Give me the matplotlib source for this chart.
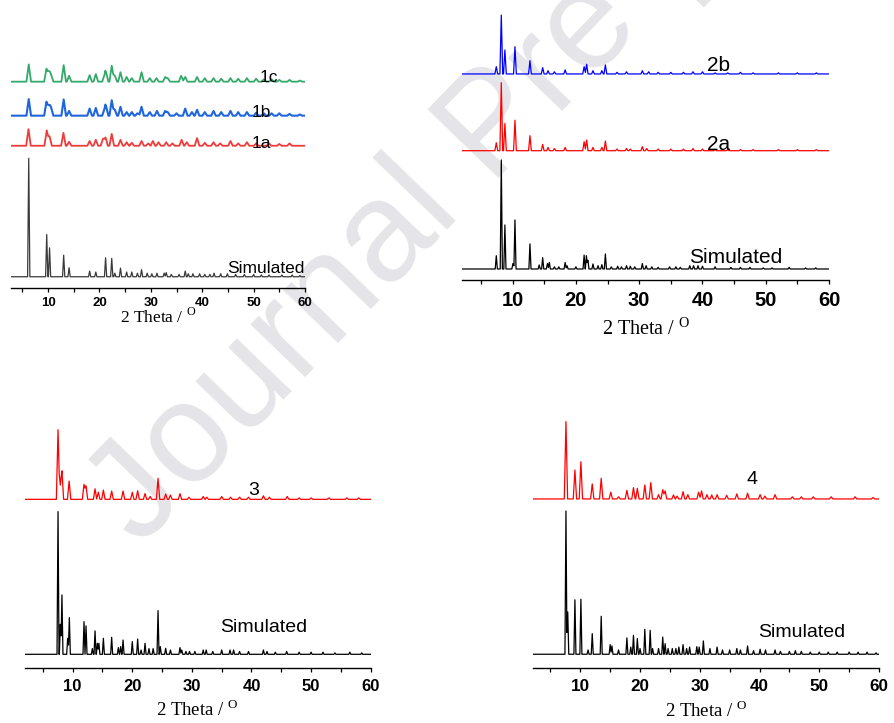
import numpy as np
import matplotlib
matplotlib.use("Agg")
import matplotlib.pyplot as plt

plt.rcParams['font.family'] = ['Liberation Sans', 'DejaVu Sans']
plt.rcParams['mathtext.fontset'] = 'custom'
plt.rcParams['mathtext.rm'] = 'Liberation Serif'

# ---------------- data: peak positions (2theta) and relative heights ----------------
# Panel 1
p1_sim_pos = [6.25, 9.75, 10.3, 13.05, 14.1, 18.1, 19.3, 21.2, 22.4, 23.0, 24.1, 25.3, 26.3, 27.4, 28.2, 29.3,
              30.2, 31.2, 32.6, 33.0, 34.0, 35.5, 36.7, 37.3, 38.2, 39.5, 40.5, 41.5, 42.3, 43.6, 44.9, 46.5,
              48.2, 50.0, 51.5, 53.0, 55.5, 57.5, 59.0]
p1_sim_h = [100, 35.6, 24.4, 18.2, 7.6, 4.8, 4, 16, 15.5, 3, 7.3, 4, 4, 3, 6, 3,
            2.5, 3, 3, 3.5, 2, 2, 4.8, 2.5, 2.5, 2.5, 2, 2, 3, 2.5, 2.5, 2,
            2, 2, 1.5, 1.5, 1.5, 1.5, 1]
p1_a_pos = [6.2, 9.75, 10.3, 13.0, 14.1, 18.1, 19.3, 20.7, 21.2, 22.4, 24.1, 25.3, 26.3, 28.2, 29.5, 30.4,
            31.5, 33.0, 34.2, 36.0, 37.0, 39.0, 40.5, 42.2, 43.5, 45.5, 47.0, 48.7, 50.5, 53.0, 55.0, 57.0]
p1_a_h = [14, 13, 8, 10.9, 3.4, 4, 5, 6, 7, 10, 5, 3, 2.5, 4, 2, 4,
          3, 3, 2, 5, 3, 6.5, 2.5, 3, 2, 4, 2, 3, 2, 2, 1.5, 2]
p1_b_pos = [6.25, 9.7, 10.2, 10.6, 13.05, 14.1, 18.1, 19.3, 21.0, 21.3, 22.4, 23.0, 24.1, 25.3, 26.3, 27.4,
            28.2, 29.8, 31.2, 32.8, 33.3, 35.0, 36.7, 38.0, 39.0, 40.5, 42.2, 43.7, 45.5, 47.0, 48.7, 50.5,
            52.0, 53.5, 55.0, 57.0, 59.0]
p1_b_h = [14, 11.8, 9, 7, 13.7, 4, 6, 6.5, 6, 8, 13, 5, 7.5, 3, 3, 2,
          7.5, 3, 4, 4, 3, 2, 6, 3, 5, 3, 4, 3, 4, 3, 3, 2.5,
          2, 2, 2, 1.5, 1]
p1_c_pos = [6.25, 9.7, 10.2, 10.6, 13.05, 14.1, 18.1, 19.3, 21.0, 21.3, 22.4, 23.0, 24.1, 25.3, 26.3, 28.2,
            29.8, 31.1, 32.8, 33.3, 35.9, 36.7, 39.0, 40.5, 42.2, 43.7, 45.5, 47.0, 48.7, 50.5, 52.0, 53.5,
            55.0, 57.0, 59.0]
p1_c_h = [14.6, 11, 9, 6, 14, 5, 5.5, 6.4, 6, 8, 13.5, 5, 8, 4, 3, 8,
          3, 3, 4, 3, 5, 4, 4, 3, 3, 2.5, 3, 2.5, 3, 2.5, 2, 2,
          1.5, 1.5, 1]

# Panel 2
p2_sim_pos = [7.42, 8.21, 8.78, 10.05, 10.37, 12.74, 14.2, 14.75, 15.5, 15.8, 16.6, 17.3, 18.3, 18.6, 20.0,
              21.3, 21.66, 21.9, 22.7, 23.5, 24.1, 24.66, 25.6, 26.6, 27.2, 28.0, 28.6, 29.3, 30.5, 31.1,
              32.0, 33.0, 34.8, 35.8, 36.5, 38.0, 38.6, 39.3, 40.0, 42.0, 44.5, 46.0, 47.5, 49.6, 51.0,
              53.7, 56.3, 57.9]
p2_sim_h = [12.2, 100, 40.4, 5, 45, 23, 3.7, 10.4, 5, 6, 2, 2, 6, 3, 2,
            12.8, 12.2, 8, 4.6, 3, 4, 13.8, 2, 2.5, 2, 3, 2.5, 2, 5, 3,
            2, 1.5, 2, 2, 1.5, 3, 3, 3, 2.5, 2, 1.5, 1.5, 1.5, 1, 1,
            1.5, 1, 1]
p2_a_pos = [7.42, 8.21, 8.78, 10.37, 12.74, 14.75, 15.6, 16.6, 18.3, 21.3, 21.7, 22.7, 24.1, 24.66, 26.5,
            28.0, 28.6, 30.5, 31.2, 33.0, 35.0, 37.0, 38.5, 40.0, 42.0, 44.0, 46.0, 48.0, 52.0, 55.0, 58.0]
p2_a_h = [7.3, 62.4, 25, 28, 13.8, 5.8, 3, 2, 3, 8.3, 9.8, 3, 3, 8.9, 1.5,
          2, 1.5, 3.7, 2, 1.5, 1.5, 1.5, 2, 1.5, 1, 1, 1, 1, 1, 1, 1]
p2_b_pos = [7.42, 8.21, 8.78, 10.37, 12.74, 14.75, 15.6, 16.6, 18.3, 21.3, 21.7, 22.7, 24.1, 24.66, 26.5,
            28.0, 30.5, 31.5, 33.0, 35.0, 37.0, 38.5, 40.0, 42.0, 44.0, 46.0, 48.0, 52.0, 55.0, 58.0]
p2_b_h = [6.7, 54, 22, 25, 12.2, 5.8, 3, 2, 3.7, 6.7, 8.9, 3, 3, 8.3, 1.5,
          2, 3, 2, 1.5, 1.5, 1.5, 2, 2, 1, 1, 1.5, 1, 1, 1, 1]

# Panel 3
p3_sim_pos = [7.54, 7.93, 8.2, 9.16, 9.44, 11.9, 12.24, 13.3, 13.75, 14.14, 14.4, 15.15, 16.54, 17.66, 18.05,
              18.45, 20.0, 20.9, 21.47, 22.14, 22.8, 23.5, 24.32, 24.7, 25.6, 26.4, 28.0, 28.3, 29.0, 29.6,
              30.5, 31.9, 32.4, 33.5, 35.0, 36.4, 37.0, 38.0, 39.5, 42.0, 42.6, 44.0, 45.9, 48.0, 50.0,
              52.0, 54.0, 56.5, 58.5]
p3_sim_h = [100, 21, 41.6, 11.2, 25.7, 22.9, 19.9, 4, 16.4, 7.7, 7.7, 11.2, 11.9, 4.7, 5.4,
            10, 8.9, 10.7, 3, 7.7, 4, 4, 30.6, 5.4, 4.2, 3, 4.7, 3, 2, 2,
            2, 3, 3, 2, 3, 3, 3, 2, 2, 3, 2, 1.5, 2, 1.5, 1.5,
            1.5, 1, 1.5, 1]
p3_exp_pos = [7.54, 7.93, 8.2, 9.4, 11.9, 12.24, 13.75, 14.3, 15.15, 16.54, 18.45, 20.0, 20.9, 22.14, 23.0,
              24.32, 25.6, 26.4, 28.0, 29.5, 31.9, 32.5, 35.0, 36.5, 38.0, 39.5, 42.0, 43.0, 46.0, 48.0,
              50.0, 53.0, 56.0, 58.0]
p3_exp_h = [48.8, 10, 20, 12.8, 10.5, 9.5, 7.4, 5, 6.5, 5.8, 5.8, 4.9, 6, 4, 2,
            14.7, 3.7, 3, 4, 1.5, 2, 1.5, 2, 1.5, 1.5, 1.5, 2.5, 1.5, 2, 1,
            1, 1, 1, 1]

# Panel 4
p4_sim_pos = [7.6, 7.9, 9.1, 10.1, 11.3, 12.0, 13.5, 15.0, 15.3, 16.4, 17.8, 18.45, 18.9, 19.55, 20.0, 20.8,
              21.7, 22.1, 23.1, 23.8, 24.2, 24.7, 25.4, 26.0, 26.5, 27.2, 27.8, 28.3, 29.5, 29.9, 30.6,
              31.7, 32.9, 33.8, 35.0, 36.2, 36.8, 38.0, 39.0, 40.1, 41.0, 42.6, 43.5, 45.0, 46.0, 47.0,
              48.5, 50.0, 51.5, 53.0, 55.0, 56.5, 58.0, 59.5]
p4_sim_h = [100, 29.5, 38, 38.4, 3, 14.4, 26.5, 6.7, 5.8, 3, 11.4, 5, 13.3, 10.9, 4, 17.4,
            16.7, 4, 4, 12, 7.4, 4, 4, 4, 5, 6.7, 4, 5, 5.3, 5, 9.3,
            4, 5, 3, 3, 4, 3, 5.8, 2.5, 3.5, 3, 3, 2, 2, 2.5, 2,
            1.5, 1.5, 1.5, 1.5, 1.5, 1.5, 1.5, 1]
p4_exp_pos = [7.6, 9.1, 10.1, 12.0, 13.5, 15.1, 16.4, 17.8, 18.9, 19.55, 20.8, 21.8, 23.1, 23.8, 24.2, 25.6,
              26.2, 27.2, 28.0, 29.8, 30.3, 31.2, 32.0, 32.9, 34.5, 36.2, 38.0, 40.1, 40.9, 42.6, 45.5,
              47.0, 49.0, 52.0, 56.0, 59.0]
p4_exp_h = [54, 20.2, 26, 10.5, 14.4, 4.7, 1.5, 6, 7.9, 7.4, 9.8, 11.4, 3, 6.5, 5.6, 2.8,
            2, 5.1, 3, 4.7, 5.6, 3, 2.8, 3, 2.5, 3.5, 4, 3, 2, 3, 1.5,
            1.5, 1.5, 1.5, 1.5, 1]

labels = ['Simulated', '1a', '1b', '1c', '2a', '2b', '3', '4']
tick_values = [10, 20, 30, 40, 50, 60]


def pattern(pos, hts, hw, x0, x1, offset):
    """Polyline through each read peak (apex) with baseline feet at +/- hw."""
    order = np.argsort(pos)
    P = np.asarray(pos, float)[order]
    H = np.asarray(hts, float)[order]
    xs, ys = [x0], [0.0]
    for i, (p, h) in enumerate(zip(P, H)):
        lo = p - hw
        if i > 0 and P[i - 1] + hw > lo:
            m = 0.5 * (P[i - 1] + p)
            v = H[i - 1] * max(0, 1 - abs(m - P[i - 1]) / hw) + h * max(0, 1 - abs(m - p) / hw)
            xs.append(m); ys.append(v)
        else:
            xs.append(lo); ys.append(0.0)
        xs.append(p); ys.append(h)
        if not (i < len(P) - 1 and P[i + 1] - hw < p + hw):
            xs.append(p + hw); ys.append(0.0)
    xs.append(x1); ys.append(0.0)
    return np.array(xs), np.array(ys) + offset


W, Hh = 894, 723
fig = plt.figure(figsize=(W / 100, Hh / 100), dpi=100)

# watermark
fig.text(140 / W, 1 - 548 / Hh, 'Journal Pre-proof', rotation=46, rotation_mode='anchor',
         ha='left', va='baseline', fontsize=102, color='#e5e5e9', zorder=-5,
         family='Liberation Sans')


def make_ax(left, right, top, spine, xlim, ylim, tick_fs, lab_fs, label_xy, pad=4.5):
    ax = fig.add_axes([left / W, 1 - spine / Hh, (right - left) / W, (spine - top) / Hh])
    ax.set_facecolor('none')
    ax.set_xlim(*xlim)
    ax.set_ylim(*ylim)
    for s in ['top', 'right', 'left']:
        ax.spines[s].set_visible(False)
    ax.spines['bottom'].set_linewidth(1.0)
    ax.set_yticks([])
    ax.set_xticks(tick_values)
    ax.set_xticks([5, 15, 25, 35, 45, 55], minor=True)
    ax.tick_params(axis='x', which='major', direction='out', length=3.2, width=0.9,
                   labelsize=tick_fs, pad=pad)
    ax.tick_params(axis='x', which='minor', direction='out', length=3.0, width=0.9)
    for t in ax.get_xticklabels():
        t.set_fontweight('bold')
    ax.set_xlabel('2 Theta / $^{\\mathrm{O}}$', family='Liberation Serif', fontsize=lab_fs)
    ax.xaxis.label.set_va('baseline')
    ax.xaxis.set_label_coords(*label_xy)
    return ax


# ---- Panel 1 ----
ax1 = make_ax(11, 305, 60, 288, (2.8, 60), (-9.5, 183), 9.5, 12.5, (0.5, -0.152), pad=3.0)
series1 = [(p1_sim_pos, p1_sim_h, 0.22, 0.0, '#3a3a3a', 0.9),
           (p1_a_pos, p1_a_h, 0.45, 110.6, '#ee3b3b', 1.3),
           (p1_b_pos, p1_b_h, 0.45, 136.0, '#1f66dd', 1.5),
           (p1_c_pos, p1_c_h, 0.45, 164.7, '#34aa6a', 1.3)]
for pos, h, hw, off, col, lw in series1:
    x, y = pattern(pos, h, hw, 2.8, 60, off)
    ax1.plot(x, y, color=col, lw=lw)
ax1.text(44.8, 3.4, labels[0], fontsize=12.5)
ax1.text(49.7, 108.4, labels[1], fontsize=12.5)
ax1.text(49.7, 135.0, labels[2], fontsize=12.5)
ax1.text(51.2, 164.6, labels[3], fontsize=12.5)

# ---- Panel 2 ----
ax2 = make_ax(462, 829, 8, 280, (2, 60), (-10.1, 239.4), 14.5, 14.5, (0.501, -0.202))
series2 = [(p2_sim_pos, p2_sim_h, 0.17, 0.0, 'black', 0.9),
           (p2_a_pos, p2_a_h, 0.22, 108.5, '#ff0000', 0.9),
           (p2_b_pos, p2_b_h, 0.22, 178.9, '#0000ff', 0.9)]
for pos, h, hw, off, col, lw in series2:
    x, y = pattern(pos, h, hw, 2, 60, off)
    ax2.plot(x, y, color=col, lw=lw)
ax2.text(37.9, 5.2, labels[0], fontsize=15)
ax2.text(40.7, 109.2, labels[4], fontsize=15)
ax2.text(40.7, 182.0, labels[5], fontsize=15)

# ---- Panel 3 ----
ax3 = make_ax(25, 370.7, 415, 668, (2, 60), (-9.6, 167.7), 12, 13.5, (0.4975, -0.19))
series3 = [(p3_sim_pos, p3_sim_h, 0.17, 0.0, 'black', 0.9),
           (p3_exp_pos, p3_exp_h, 0.28, 108.6, '#ff0000', 0.9)]
for pos, h, hw, off, col, lw in series3:
    x, y = pattern(pos, h, hw, 2, 60, off)
    ax3.plot(x, y, color=col, lw=lw)
ax3.text(34.7, 15.4, labels[0], fontsize=14)
ax3.text(39.5, 111.6, labels[6], fontsize=14)

# ---- Panel 4 ----
ax4 = make_ax(532.5, 879, 415, 668, (2, 60), (-9.6, 167), 12.3, 13.5, (0.5007, -0.192))
series4 = [(p4_sim_pos, p4_sim_h, 0.17, 0.0, 'black', 0.9),
           (p4_exp_pos, p4_exp_h, 0.28, 108.4, '#ff0000', 0.9)]
for pos, h, hw, off, col, lw in series4:
    x, y = pattern(pos, h, hw, 2, 60, off)
    ax4.plot(x, y, color=col, lw=lw)
ax4.text(39.8, 12.3, labels[0], fontsize=14)
ax4.text(37.85, 118.8, labels[7], fontsize=14)

fig.savefig('out.png', dpi=100)
